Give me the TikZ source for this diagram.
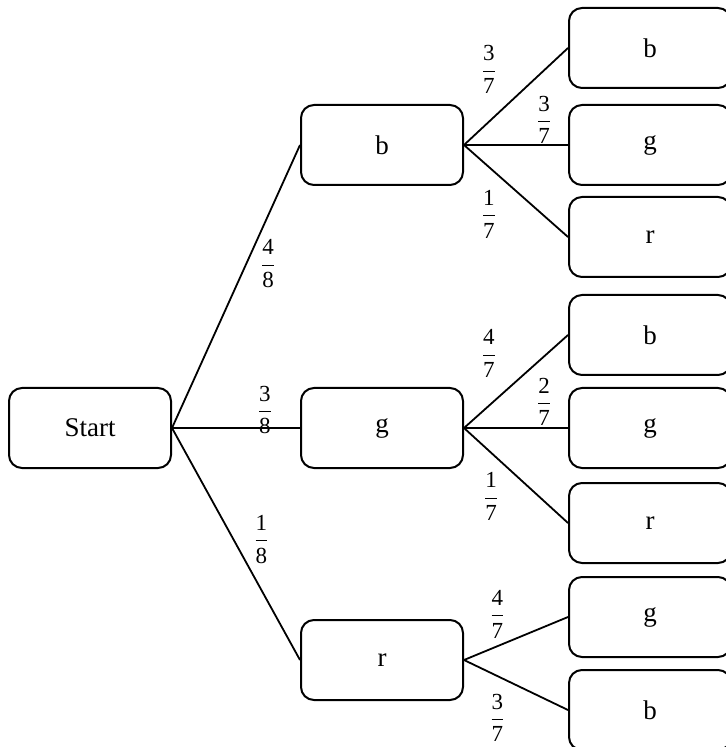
\documentclass[tikz,border=0pt]{standalone}
\usepackage{fontspec}
\setmainfont{Liberation Serif}
\usepackage{amsmath}

\newcommand{\prob}[2]{$\genfrac{}{}{0.5pt}{0}{\text{#1}}{\text{#2}}$}

\begin{document}
\begin{tikzpicture}[x=0.5pt,y=-0.5pt,
  box/.style={draw,rectangle,rounded corners=6.5pt,line width=1pt,
    minimum width=81pt,minimum height=40pt,inner sep=0pt,
    font=\fontsize{13.5}{16}\selectfont},
  plabel/.style={font=\fontsize{11.5}{13}\selectfont,inner sep=1pt},
  branch/.style={line width=0.9pt}]
  \useasboundingbox (0,0) rectangle (725,747);

  % first draw
  \node[box] (start) at (90,428) {Start};
  \node[box] (b) at (382,145) {b};
  \node[box] (g) at (382,428) {g};
  \node[box] (r) at (382,660) {r};

  % second draw
  \node[box,anchor=west] (bb) at (568,48) {b};
  \node[box,anchor=west] (bg) at (568,145) {g};
  \node[box,anchor=west] (br) at (568,237) {r};
  \node[box,anchor=west] (gb) at (568,335) {b};
  \node[box,anchor=west] (gg) at (568,428) {g};
  \node[box,anchor=west] (gr) at (568,523) {r};
  \node[box,anchor=west] (rg) at (568,617) {g};
  \node[box,anchor=west] (rb) at (568,710) {b};

  \path[branch] (start.east) edge node[plabel,pos=0.58,xshift=11pt] (pb) {\prob{4}{8}} (b.west)
                (start.east) edge node[plabel,pos=0.725,yshift=9pt] (pg) {\prob{3}{8}} (g.west)
                (start.east) edge node[plabel,pos=0.48,xshift=14pt] (pr) {\prob{1}{8}} (r.west);
  \path[branch] (b.east) edge node[plabel,pos=0.24,yshift=26pt] (pbb) {\prob{3}{7}} (bb.west)
                (b.east) edge node[plabel,pos=0.77,yshift=12.5pt] (pbg) {\prob{3}{7}} (bg.west)
                (b.east) edge node[plabel,pos=0.24,yshift=-23.5pt] (pbr) {\prob{1}{7}} (br.west);
  \path[branch] (g.east) edge node[plabel,pos=0.24,yshift=26pt] (pgb) {\prob{4}{7}} (gb.west)
                (g.east) edge node[plabel,pos=0.77,yshift=13pt] (pgg) {\prob{2}{7}} (gg.west)
                (g.east) edge node[plabel,pos=0.26,yshift=-22pt] (pgr) {\prob{1}{7}} (gr.west);
  \path[branch] (r.east) edge node[plabel,pos=0.32,yshift=16pt] (prg) {\prob{4}{7}} (rg.west)
                (r.east) edge node[plabel,pos=0.32,yshift=-21pt] (prb) {\prob{3}{7}} (rb.west);
\end{tikzpicture}
\end{document}
